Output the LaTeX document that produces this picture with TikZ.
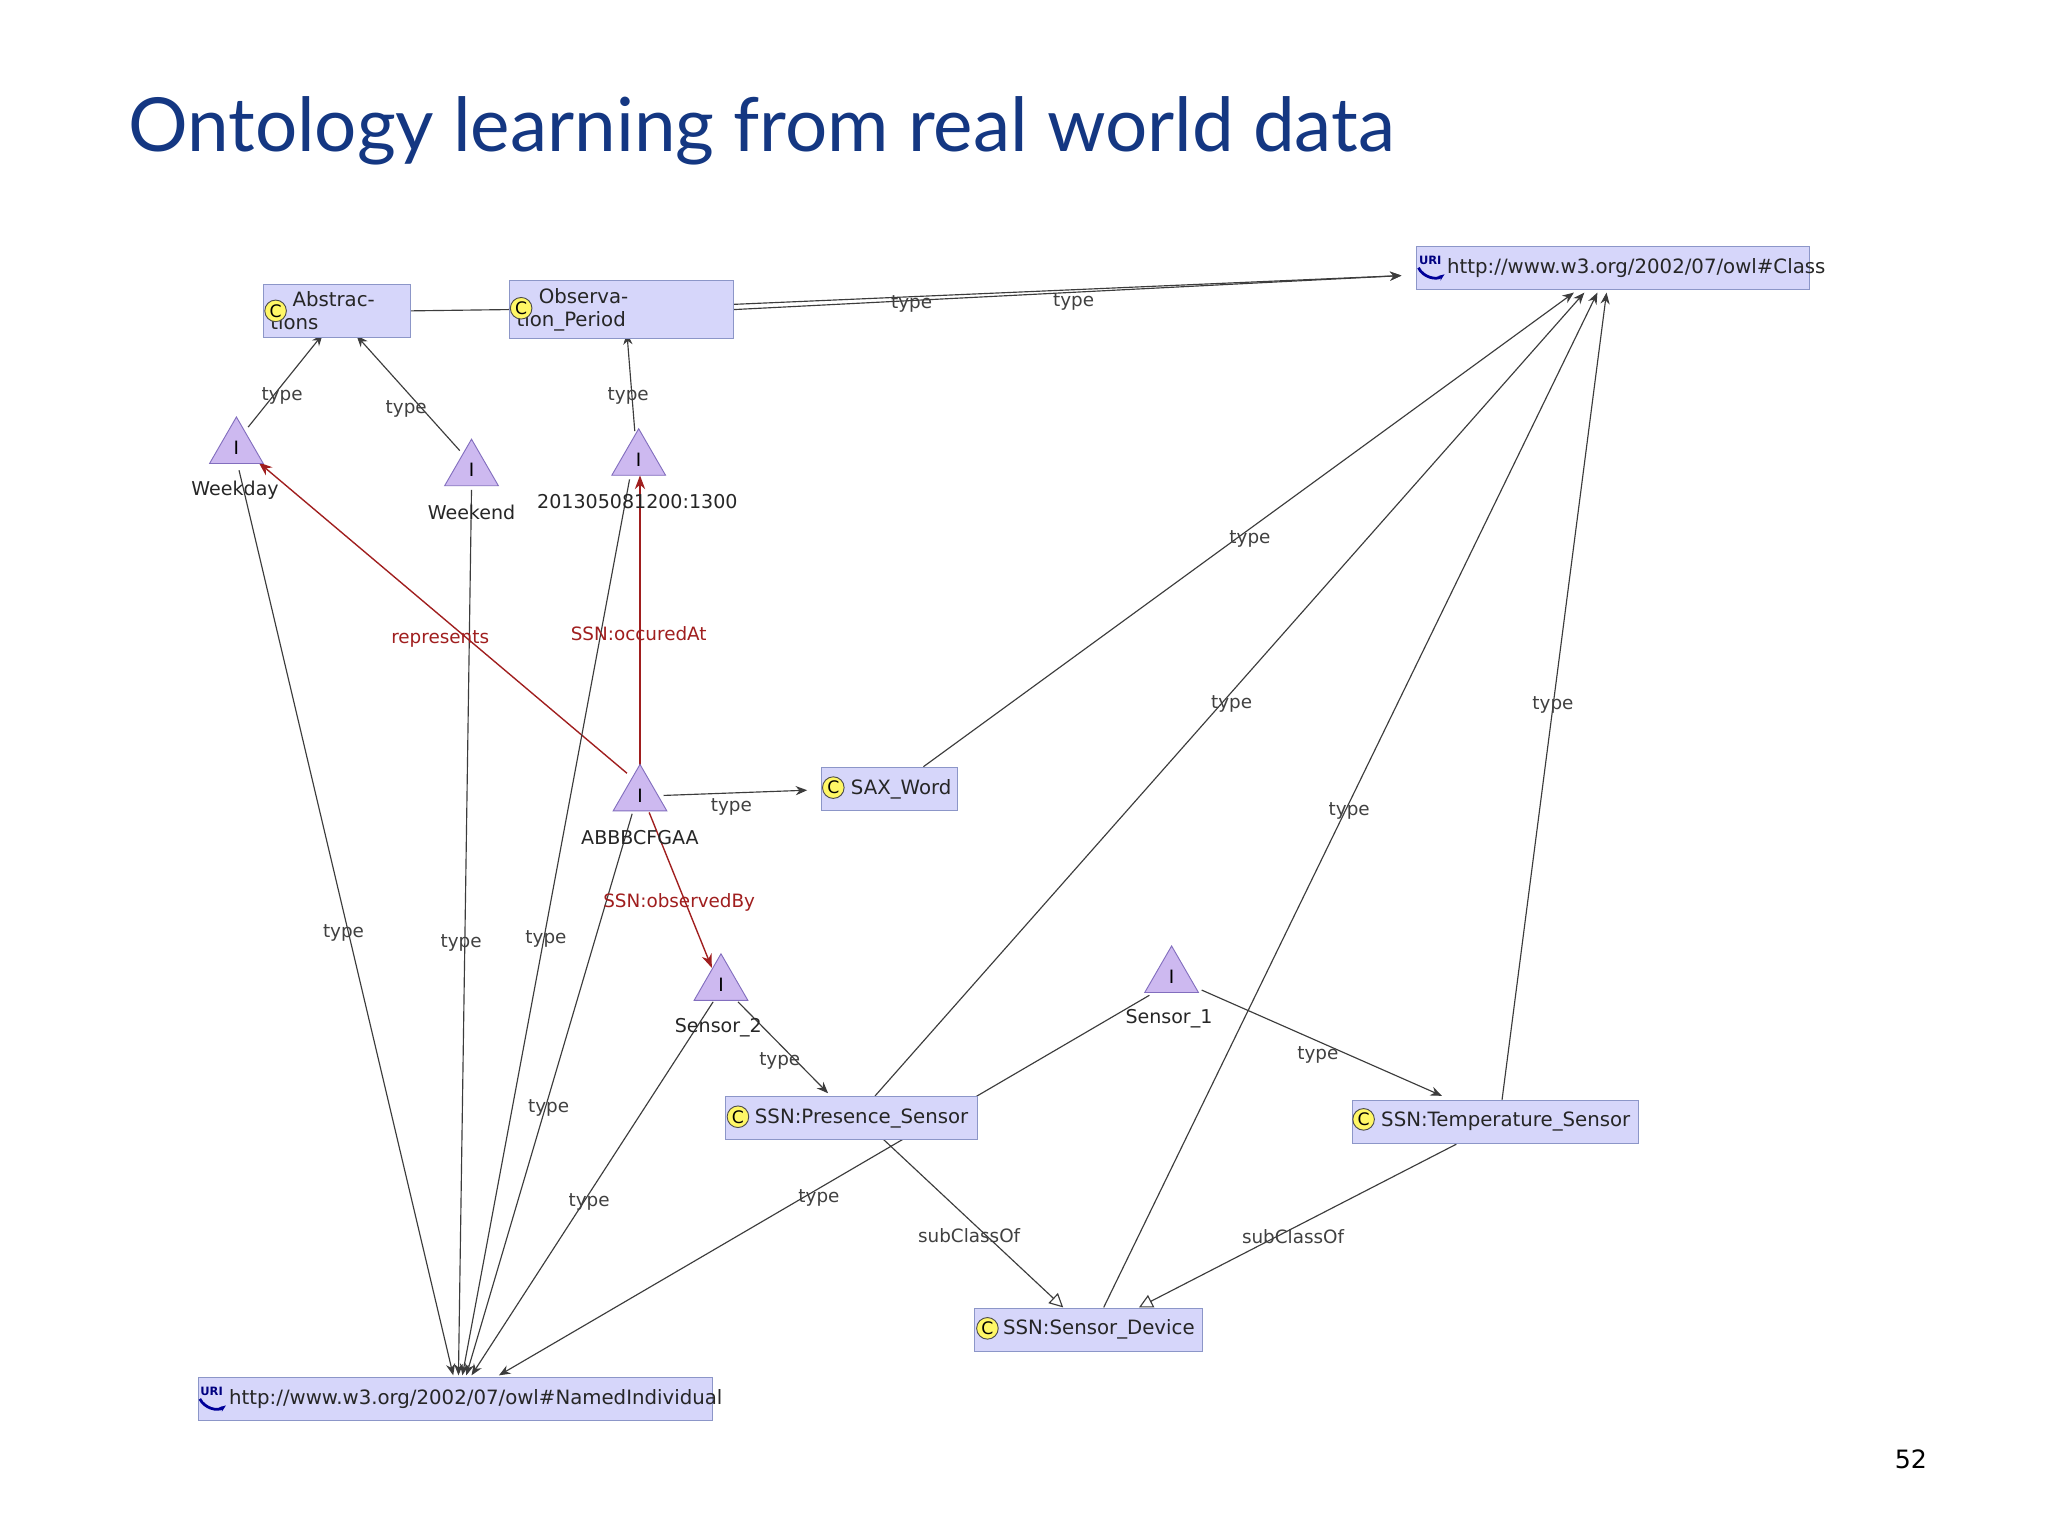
\documentclass[tikz,border=0pt]{standalone}
\usepackage{fontspec}
\setmainfont{DejaVu Sans}
\newfontfamily\titlefont{Lato}
\usetikzlibrary{shapes.geometric,arrows.meta,backgrounds}
\definecolor{titleblue}{RGB}{20,55,130}
\definecolor{boxfill}{RGB}{214,214,250}
\definecolor{boxdraw}{RGB}{140,150,200}
\definecolor{trifill}{RGB}{205,185,240}
\definecolor{tridraw}{RGB}{130,110,190}
\definecolor{redge}{RGB}{160,30,30}
\definecolor{edgegray}{RGB}{60,60,60}
\begin{document}
\begin{tikzpicture}[x=0.2mm,y=-0.2mm,
  cbox/.style={draw=boxdraw,fill=boxfill,minimum height=6.6mm,inner xsep=3pt,align=left,font=\fontsize{8.6}{10}\selectfont,text=black!85},
  tri/.style={regular polygon,regular polygon sides=3,draw=tridraw,fill=trifill,minimum size=9.5mm,inner sep=0pt,font=\fontsize{8}{9}\selectfont},
  ilab/.style={font=\fontsize{8.3}{10}\selectfont,text=black!85},
  elab/.style={font=\fontsize{8}{10}\selectfont,text=black!75},
  rlab/.style={font=\fontsize{8}{10}\selectfont,text=redge},
  ed/.style={draw=edgegray,line width=0.5pt,-{Stealth[length=5pt,width=4pt]}},
  pl/.style={draw=edgegray,line width=0.5pt},
  red/.style={draw=redge,line width=0.6pt,-{Stealth[length=6pt,width=4.5pt]}},
  sub/.style={draw=edgegray,line width=0.5pt,-{Triangle[open,length=6pt,width=6pt,fill=white]}},
  cic/.style={circle,draw=black!70,fill=yellow!60,inner sep=0.6pt,font=\fontsize{7.5}{8}\selectfont}
]
\useasboundingbox (0,0) rectangle (1568,1176);
\node[anchor=west,text=titleblue,font=\titlefont\fontsize{32.5}{38}\selectfont] (title) at (92,100) {Ontology learning from real world data};
\node (pg) at (1463,1117) {\fontsize{11}{12}\selectfont 52};

% boxes
\node[cbox,text width=20.4mm] (abs) at (258,238) {\hspace*{3.4mm}Abstractions};
\node[cbox,text width=32.2mm] (obs) at (476,237) {\hspace*{3.4mm}Observation\_Period};
\node[cbox,text width=58mm] (cls) at (1235,205) {\hspace*{3.6mm}http://www.w3.org/2002/07/owl\#Class};
\node[cbox,text width=18.6mm] (sax) at (681,604) {\hspace*{3.4mm}SAX\_Word};
\node[cbox,text width=36.4mm] (pres) at (652,856) {\hspace*{3.4mm}SSN:Presence\_Sensor};
\node[cbox,text width=41.8mm] (temp) at (1145,859) {\hspace*{3.4mm}SSN:Temperature\_Sensor};
\node[cbox,text width=32.8mm] (dev) at (833,1018) {\hspace*{3.4mm}SSN:Sensor\_Device};
\node[cbox,text width=76.6mm] (ni) at (349,1071) {\hspace*{3.6mm}http://www.w3.org/2002/07/owl\#NamedIndividual};
% icons
\node[cic] (c1) at (211,238) {C};
\node[cic] (c2) at (399,236) {C};
\node[cic] (c3) at (638,603) {C};
\node[cic] (c4) at (565,855) {C};
\node[cic] (c5) at (1044,857) {C};
\node[cic] (c6) at (756,1017) {C};
\node[font=\fontsize{5}{5}\selectfont\bfseries,text=blue!50!black,inner sep=0pt] (u1) at (1095,199) {URI};
\draw[blue!60!black,line width=1.2pt,-{Stealth[length=3pt]}] (1086,205) to[bend right=50] (1106,210);
\node[font=\fontsize{5}{5}\selectfont\bfseries,text=blue!50!black,inner sep=0pt] (u2) at (162,1065) {URI};
\draw[blue!60!black,line width=1.2pt,-{Stealth[length=3pt]}] (153,1071) to[bend right=50] (173,1076);

% individuals
\node[tri] (wd) at (181,343) {I};
\node[ilab] (wdl) at (180,375) {Weekday};
\node[tri] (we) at (361,360) {I};
\node[ilab] (wel) at (361,392) {Weekend};
\node[tri] (ts) at (489,352) {I};
\node[ilab] (tsl) at (488,384) {201305081200:1300};
\node[tri] (ab) at (490,609) {I};
\node[ilab] (abl) at (490,641) {ABBBCFGAA};
\node[tri] (s2) at (552,754) {I};
\node[ilab] (s2l) at (550,787) {Sensor\_2};
\node[tri] (s1) at (897,748) {I};
\node[ilab] (s1l) at (895,780) {Sensor\_1};

\coordinate (clB) at (1218,223);
\coordinate (clL) at (1073,211);
\coordinate (niT) at (352,1053);

\begin{scope}[on background layer]
\fill[white] (0,0) rectangle (1568,1176);
\draw[pl] (abs.east) -- (obs.west);
\draw[ed] (obs.east) ++(0,-4) -- (clL);
\draw[ed] (obs.east) -- (clL);
\draw[ed] (190,327) -- (247,256);
\draw[ed] (352,345) -- (273,257);
\draw[ed] (486,330) -- (480,255);
\draw[red] (480,592) -- (198,354);
\draw[red] (490,588) -- (490,364);
\draw[ed] (508,609) -- (618,605);
\draw[red] (497,622) -- (545,741);
\draw[ed] (565,767) -- (634,837);
\draw[ed] (920,758) -- (1104,839);
\draw[ed] (707,587) -- (1205,224);
\draw[ed] (670,839) -- (1213,224);
\draw[ed] (845,1001) -- (1223,224);
\draw[ed] (1150,842) -- (1230,224);
\draw[sub] (676,872) -- (814,1001);
\draw[sub] (1115,876) -- (872,1001);
\draw[ed] (183,360) -- (347,1053);
\draw[ed] (361,375) -- (351,1053);
\draw[ed] (482,367) -- (354,1053);
\draw[ed] (484,623) -- (357,1053);
\draw[ed] (546,767) -- (361,1053);
\draw[ed] (880,762) -- (382,1053);
\end{scope}

% labels
\node[elab] (e1) at (698,233) {type};
\node[elab] (e2) at (822,231) {type};
\node[elab] (e3) at (216,303) {type};
\node[elab] (e4) at (311,313) {type};
\node[elab] (e5) at (481,303) {type};
\node[rlab] (e6) at (337,489) {represents};
\node[rlab] (e7) at (489,485) {SSN:occuredAt};
\node[elab] (e8) at (560,618) {type};
\node[rlab] (e9) at (520,691) {SSN:observedBy};
\node[elab] (e10) at (597,812) {type};
\node[elab] (e11) at (1009,808) {type};
\node[elab] (e12) at (957,413) {type};
\node[elab] (e13) at (943,539) {type};
\node[elab] (e14) at (1033,621) {type};
\node[elab] (e15) at (1189,540) {type};
\node[elab] (e16) at (742,946) {subClassOf};
\node[elab] (e17) at (990,947) {subClassOf};
\node[elab] (e18) at (263,714) {type};
\node[elab] (e19) at (353,722) {type};
\node[elab] (e20) at (418,719) {type};
\node[elab] (e21) at (420,848) {type};
\node[elab] (e22) at (451,920) {type};
\node[elab] (e23) at (627,917) {type};
\end{tikzpicture}
\end{document}
